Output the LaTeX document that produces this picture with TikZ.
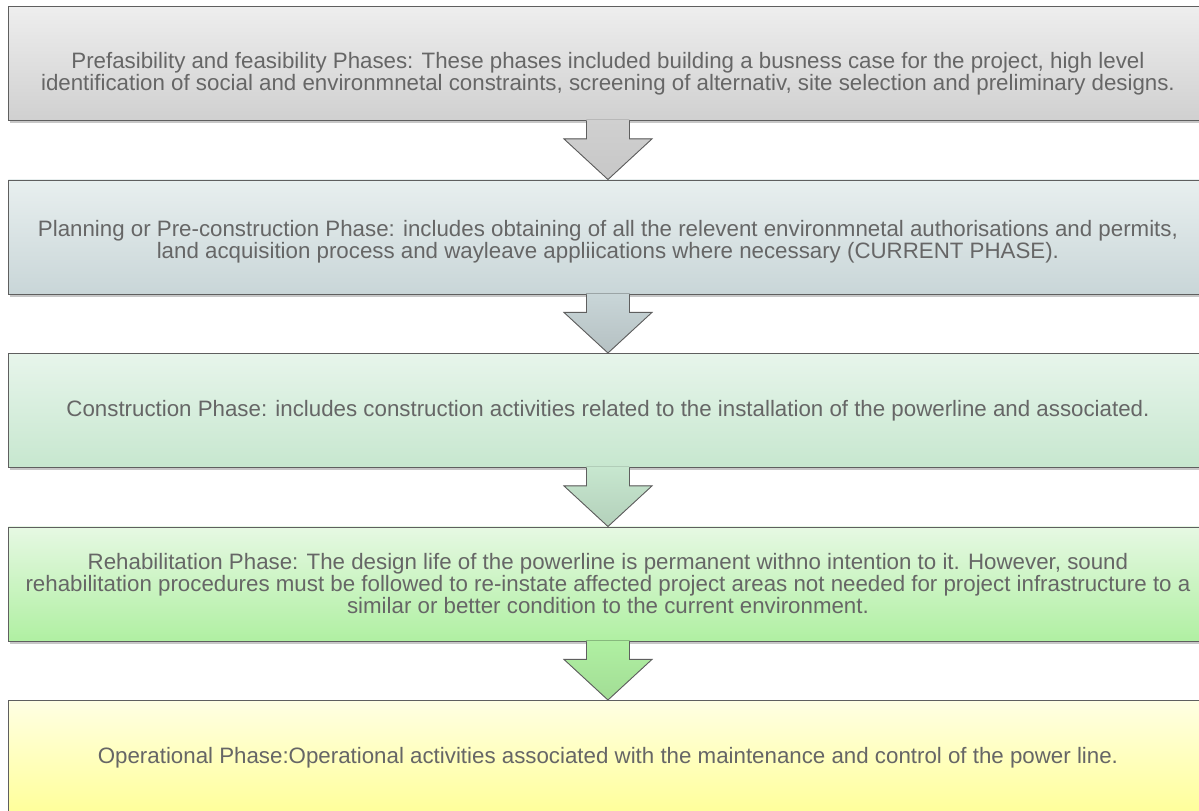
\documentclass[tikz,border=0pt]{standalone}
\usepackage{fontspec}
\setmainfont{Liberation Sans}
\usetikzlibrary{shadows,calc}
\definecolor{txt}{HTML}{666666}
\definecolor{edge}{HTML}{5F5F5F}
\definecolor{gTop}{HTML}{EEEEEE}\definecolor{gBot}{HTML}{D0D0D0}
\definecolor{bTop}{HTML}{E8EFEF}\definecolor{bBot}{HTML}{C9D6D8}
\definecolor{cTop}{HTML}{E7F5EB}\definecolor{cBot}{HTML}{C7E7CF}
\definecolor{rTop}{HTML}{E6F8E3}\definecolor{rBot}{HTML}{B0F0A2}
\definecolor{yTop}{HTML}{FFFFE3}\definecolor{yBot}{HTML}{FFFF99}
\newcommand{\phasearrow}[4]{%
  \fill[top color=#3,bottom color=#4]
    ([xshift=-21.5bp,yshift=1bp]#1.south) -- ([xshift=-21.5bp,yshift=-18bp]#1.south)
    -- ([xshift=-44bp,yshift=-18bp]#1.south) -- (#2.north)
    -- ([xshift=44bp,yshift=-18bp]#1.south) -- ([xshift=21.5bp,yshift=-18bp]#1.south)
    -- ([xshift=21.5bp,yshift=1bp]#1.south) -- cycle;
  \draw[arrowedge]
    ([xshift=-21.5bp]#1.south) -- ([xshift=-21.5bp,yshift=-18bp]#1.south)
    -- ([xshift=-44bp,yshift=-18bp]#1.south) -- (#2.north)
    -- ([xshift=44bp,yshift=-18bp]#1.south) -- ([xshift=21.5bp,yshift=-18bp]#1.south)
    -- ([xshift=21.5bp]#1.south);}
\tikzset{
  phasebox/.style={draw=edge, line width=0.9bp, minimum width=1199bp, minimum height=114bp,
    inner sep=0pt, align=center, text=txt, anchor=north west,
    font=\fontsize{22.3bp}{22bp}\selectfont,
    drop shadow={shadow xshift=1.5bp, shadow yshift=-3bp, opacity=0.22, fill=black}},
  arrowedge/.style={draw=edge, line width=0.9bp, line join=miter}
}
\begin{document}
\begin{tikzpicture}[x=1bp,y=-1bp]
\useasboundingbox[fill=white] (0,0) rectangle (1199,811);
\node[phasebox, top color=gTop, bottom color=gBot] (b1) at (8,6)
  {\rule{0pt}{36bp}Prefasibility and feasibility Phases: These phases included building a busness case for the project, high level\\
   identification of social and environmnetal constraints, screening of alternativ, site selection and preliminary designs.};
\node[phasebox, top color=bTop, bottom color=bBot] (b2) at (8,179.5)
  {\rule{0pt}{26bp}Planning or Pre-construction Phase: includes obtaining of all the relevent environmnetal authorisations and permits,\\
   land acquisition process and wayleave appliications where necessary (CURRENT PHASE).};
\node[phasebox, top color=cTop, bottom color=cBot] (b3) at (8,353)
  {Construction Phase: includes construction activities related to the installation of the powerline and associated.};
\node[phasebox, top color=rTop, bottom color=rBot] (b4) at (8,526.5)
  {Rehabilitation Phase: The design life of the powerline is permanent withno intention to it. However, sound\\
   rehabilitation procedures must be followed to re-instate affected project areas not needed for project infrastructure to a\\
   similar or better condition to the current environment.};
\node[phasebox, top color=yTop, bottom color=yBot] (b5) at (8,700)
  {Operational Phase:Operational activities associated with the maintenance and control of the power line.};
\phasearrow{b1}{b2}{gBot}{black!22}
\phasearrow{b2}{b3}{bBot}{bBot!90!black}
\phasearrow{b3}{b4}{cBot}{cBot!90!black}
\phasearrow{b4}{b5}{rBot}{rBot!92!black}
\end{tikzpicture}
\end{document}
